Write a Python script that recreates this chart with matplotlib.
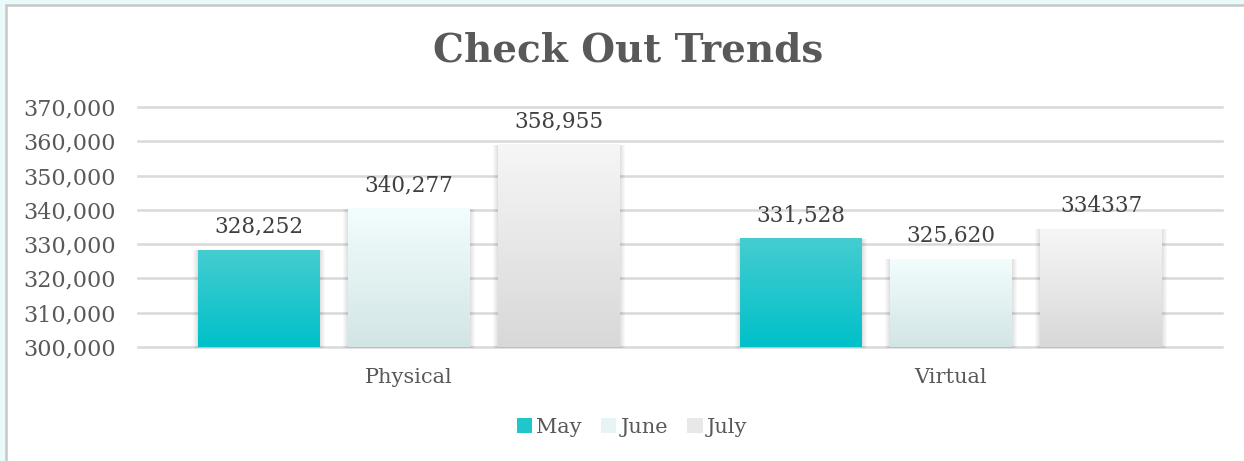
import matplotlib
matplotlib.use("Agg")
import matplotlib.pyplot as plt
import numpy as np
from matplotlib.patches import Rectangle, Patch
from matplotlib.colors import LinearSegmentedColormap

categories = ["Physical", "Virtual"]
series = ["May", "June", "July"]
may = [328252, 331528]
june = [340277, 325620]
july = [358955, 334337]
labels = [["328,252", "331,528"], ["340,277", "325,620"], ["358,955", "334337"]]
yticks = [300000, 310000, 320000, 330000, 340000, 350000, 360000, 370000]

# gradient (top, bottom) per series
grads = [("#45cdd1", "#00c0c9"), ("#f3fdfd", "#d2e5e5"), ("#f6f6f6", "#d8d8d8")]
legend_cols = ["#1fc6cc", "#e6f4f4", "#e8e8e8"]

plt.rcParams["font.family"] = ["DejaVu Serif"]
txt = "#595959"

fig = plt.figure(figsize=(12.44, 4.61), dpi=100)
fig.patch.set_facecolor("#e8fafa")
# white panel with grey border on top/left
panel = Rectangle((5.5 / 1244, -0.1), 1.2, (461 - 5.5) / 461 + 0.1,
                  transform=fig.transFigure, facecolor="white",
                  edgecolor="#c8c8c8", linewidth=1.8, zorder=-10)
fig.patches.append(panel)

ax = fig.add_axes([138 / 1244, (461 - 347) / 461, (1222 - 138) / 1244, 240 / 461])
ax.set_facecolor("none")
ymin, ymax = 300000, 370000

for t in yticks:
    ax.axhline(t, color="#d9d9d9", lw=1.8, zorder=1, clip_on=False)

x = np.arange(len(categories))
w = 0.225
offs = [-0.277, 0, 0.277]
data = [may, june, july]
for s, (vals, off, (ctop, cbot)) in enumerate(zip(data, offs, grads)):
    cmap = LinearSegmentedColormap.from_list("g%d" % s, [cbot, ctop])
    bars = ax.bar(x + off, np.array(vals) - ymin, bottom=ymin, width=w,
                  color="none", zorder=3)
    for i, b in enumerate(bars):
        x0, x1 = b.get_x(), b.get_x() + b.get_width()
        top = vals[i]
        # soft shadow
        for k in range(5):
            d = (5 - k) * 0.0018
            ax.add_patch(Rectangle((x0 - d, ymin - 300), (x1 - x0) + 2 * d,
                                   top - ymin + 300 + d * 3000,
                                   facecolor="#000000", alpha=0.025, lw=0,
                                   zorder=2, clip_on=False))
        grad = np.linspace(0, 1, 256).reshape(-1, 1)
        ax.imshow(grad, cmap=cmap, origin="lower", aspect="auto",
                  extent=[x0, x1, ymin, top], zorder=3)
        ax.text(b.get_x() + b.get_width() / 2, top + 3600, labels[s][i],
                ha="center", va="bottom", fontsize=15.5, color="#404040",
                zorder=5)
ax.set_xlim(-0.5, 1.5)
ax.set_ylim(ymin, ymax)

ax.set_yticks(yticks)
ax.set_yticklabels(["{:,}".format(t) for t in yticks])
ax.set_xticks(x)
ax.set_xticklabels(categories)
ax.tick_params(axis="y", length=0, pad=16, labelsize=16, labelcolor=txt)
ax.tick_params(axis="x", length=0, pad=15, labelsize=15, labelcolor=txt)
for sp in ax.spines.values():
    sp.set_visible(False)

fig.text(628 / 1244, 1 - 50 / 461, "Check Out Trends", ha="center",
         va="center", fontsize=28, fontweight="bold", color=txt)

handles = [Patch(facecolor=c, edgecolor="none") for c in legend_cols]
fig.legend(handles, series, loc="center", bbox_to_anchor=(632 / 1244, 1 - 427 / 461),
           ncol=3, frameon=False, fontsize=15, labelcolor=txt,
           handlelength=0.75, handleheight=0.75, handletextpad=0.2,
           columnspacing=0.9)

fig.savefig("out.png", dpi=100, facecolor=fig.get_facecolor())
